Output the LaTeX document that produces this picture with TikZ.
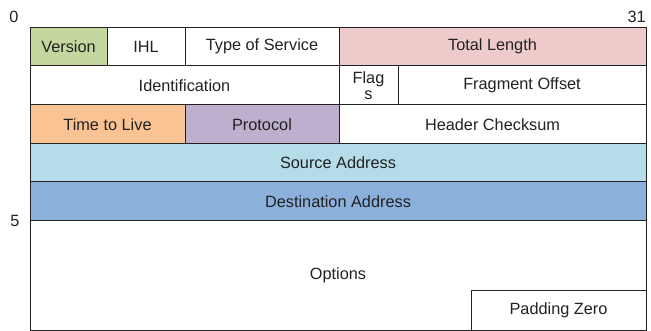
\documentclass[tikz,border=0pt]{standalone}
\usepackage{fontspec}
\setmainfont{Liberation Sans}
\definecolor{cver}{HTML}{C4D79E}
\definecolor{ctot}{HTML}{EECBCA}
\definecolor{cttl}{HTML}{F9C394}
\definecolor{cpro}{HTML}{BFAFCF}
\definecolor{csrc}{HTML}{B5DDE9}
\definecolor{cdst}{HTML}{8BB0DC}
\definecolor{cline}{HTML}{222222}
\definecolor{ctext}{HTML}{222222}
\begin{document}
\begin{tikzpicture}[x=1pt,y=-1pt,
  fld/.style={draw=cline,line width=1pt,text=ctext,font=\fontsize{16.3}{17}\selectfont},
  lbl/.style={text=ctext,font=\fontsize{16.3}{17}\selectfont,inner sep=0pt}]
\useasboundingbox[fill=white] (0,0) rectangle (651,331);
\def\fieldbox#1#2#3#4#5#6#7{% name, x1,y1,x2,y2, fill, text
  \draw[fld,fill=#6] (#2,#3) rectangle (#4,#5);
  \node[lbl,align=center] (#1) at ({(#2+#4)/2},{(#3+#5)/2}) {#7};}
% row 1
\fieldbox{ver}{30}{27.5}{107}{66}{cver}{Version}
\fieldbox{ihl}{107}{27.5}{185}{66}{white}{IHL}
\fieldbox{tos}{185}{27.5}{339}{66}{white}{Type of Service}
\fieldbox{tot}{339}{27.5}{646}{66}{ctot}{Total Length}
% row 2
\fieldbox{ident}{30}{66}{339}{105}{white}{Identification}
\fieldbox{flags}{339}{66}{398}{105}{white}{Flag\\[-1pt]s}
\fieldbox{frag}{398}{66}{646}{105}{white}{Fragment Offset}
% row 3
\fieldbox{ttl}{30}{105}{185}{143.5}{cttl}{Time to Live}
\fieldbox{proto}{185}{105}{339}{143.5}{cpro}{Protocol}
\fieldbox{chk}{339}{105}{646}{143.5}{white}{Header Checksum}
% rows 4, 5
\fieldbox{src}{30}{143.5}{646}{182}{csrc}{Source Address}
\fieldbox{dst}{30}{182}{646}{221}{cdst}{Destination Address}
% options
\fieldbox{opt}{30}{221}{646}{330}{white}{Options}
\fieldbox{pad}{471}{291}{646}{330}{white}{Padding Zero}
% bit / word labels
\node[lbl] (b0) at (14,17) {0};
\node[lbl,anchor=east] (b31) at (646,17) {31};
\node[lbl] (w5) at (15,221) {5};
\end{tikzpicture}
\end{document}
